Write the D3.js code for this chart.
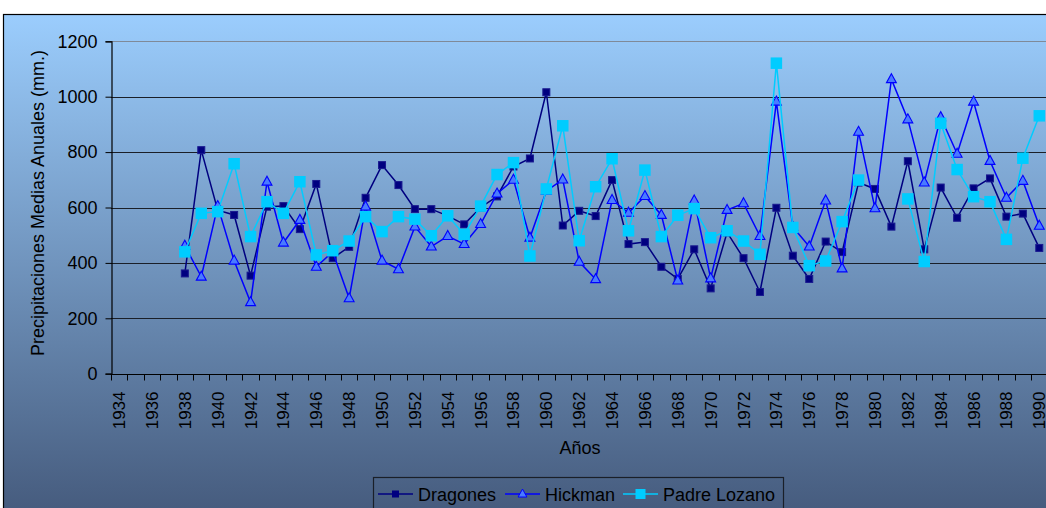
<!DOCTYPE html>
<html>
<head>
<meta charset="utf-8">
<script src="https://cdn.jsdelivr.net/npm/d3@7"></script>
<style>
  html, body { margin: 0; padding: 0; background: #fff; }
  svg { display: block; }
  text { font-family: "Liberation Sans", Arial, sans-serif; fill: #000; }
</style>
</head>
<body>
<svg id="chart" width="1046" height="508"></svg>
<script>
// Annual mean precipitation (mm) per station, 1934–1990 (null = no record)
const years = d3.range(1934, 1991);
const yearTicks = years.filter(y => (y - 1934) % 2 === 0);
const yTicks = [0, 200, 400, 600, 800, 1000, 1200];

const dragones = [null, null, null, null,
  362, 807, 590, 573, 354, 603, 605, 522, 685, 417, 458, 635, 753, 681, 594, 594,
  570, 539, 600, 640, 748, 777, 1016, 535, 588, 569, 699, 468, 475, 386, 342, 449,
  308, 510, 417, 295, 599, 426, 342, 477, 439, 690, 667, 531, 767, 449, 672, 563,
  669, 705, 567, 578, 454];

const hickman = [null, null, null, null,
  462, 350, 605, 408, 258, 693, 473, 555, 386, 440, 272, 603, 408, 377, 531, 459,
  497, 468, 540, 650, 700, 491, 660, 701, 404, 341, 627, 581, 641, 573, 336, 625,
  344, 591, 615, 497, 982, 530, 459, 625, 380, 873, 597, 1063, 918, 690, 926, 794,
  982, 768, 635, 696, 534];

const padreLozano = [null, null, null, null,
  440, 579, 585, 758, 495, 621, 579, 693, 429, 444, 479, 567, 513, 567, 558, 498,
  570, 503, 605, 719, 762, 425, 667, 895, 480, 675, 776, 516, 735, 495, 572, 596,
  491, 516, 479, 431, 1121, 528, 390, 407, 549, 699, null, null, 631, 405, 904, 737,
  639, 621, 485, 778, 931];

const seriesNames = ["Dragones", "Hickman", "Padre Lozano"];

const svg = d3.select("#chart");
const W = 1046, H = 508;

// Chart area background gradient
const defs = svg.append("defs");
const grad = defs.append("linearGradient")
  .attr("id", "bg").attr("x1", 0).attr("y1", 0).attr("x2", 0).attr("y2", 1);
grad.append("stop").attr("offset", "0%").attr("stop-color", "#9bcdfd");
grad.append("stop").attr("offset", "100%").attr("stop-color", "#44597b");

svg.append("rect")
  .attr("x", 3.5).attr("y", 14.5)
  .attr("width", W + 10).attr("height", H)
  .attr("fill", "url(#bg)")
  .attr("stroke", "#000").attr("stroke-width", 1.2);

// Plot area
const plot = { left: 110.9, right: 1047.5, top: 41.3, bottom: 373.7 };

const x = d3.scaleBand().domain(years).range([plot.left, plot.right]).padding(0);
const y = d3.scaleLinear().domain([0, 1200]).range([plot.bottom, plot.top]);
const cx = yr => x(yr) + x.bandwidth() / 2;

// Horizontal gridlines
svg.append("g")
  .selectAll("line")
  .data(yTicks.filter(v => v > 0))
  .join("line")
  .attr("x1", plot.left).attr("x2", W)
  .attr("y1", d => Math.round(y(d)) + 0.5).attr("y2", d => Math.round(y(d)) + 0.5)
  .attr("stroke", d => d === 1200 ? "#7f8a99" : "#1a1f28")
  .attr("stroke-width", 1.1);

// Y axis
const yAxis = svg.append("g")
  .attr("transform", `translate(${Math.round(plot.left) + 0.5},0)`)
  .call(d3.axisLeft(y).tickValues(yTicks).tickSize(6).tickPadding(8).tickFormat(d3.format("d")));
yAxis.select(".domain").attr("stroke", "#000").attr("stroke-width", 1.2);
yAxis.selectAll(".tick line").attr("stroke", "#000");
yAxis.selectAll(".tick text")
  .attr("font-size", 18).attr("font-family", "Liberation Sans, Arial, sans-serif").attr("fill", "#000");

// X axis: tick at every year boundary, label every other year
const xAxisG = svg.append("g")
  .attr("transform", `translate(0,${Math.round(plot.bottom) + 0.5})`);
xAxisG.append("line")
  .attr("x1", plot.left).attr("x2", W)
  .attr("stroke", "#000").attr("stroke-width", 1.2);
xAxisG.selectAll("line.tk")
  .data(years)
  .join("line").attr("class", "tk")
  .attr("x1", d => Math.round(x(d)) + 0.5).attr("x2", d => Math.round(x(d)) + 0.5)
  .attr("y1", 0).attr("y2", 6)
  .attr("stroke", "#000");
xAxisG.selectAll("text")
  .data(yearTicks)
  .join("text")
  .attr("transform", d => `translate(${cx(d) + 6},${17}) rotate(-90)`)
  .attr("text-anchor", "end")
  .attr("font-size", 17)
  .text(d => d);

// Axis titles
svg.append("text")
  .attr("transform", `translate(44,203) rotate(-90)`)
  .attr("text-anchor", "middle")
  .attr("font-size", 18)
  .text("Precipitaciones Medias Anuales (mm.)");

svg.append("text")
  .attr("x", 580).attr("y", 454)
  .attr("text-anchor", "middle")
  .attr("font-size", 18)
  .text("Años");

// Series
const line = d3.line()
  .defined(d => d.v != null)
  .x(d => cx(d.yr))
  .y(d => y(d.v));

const toPts = arr => years.map((yr, i) => ({ yr, v: arr[i] }));

const triangle = s => `M0,${-s * 0.62}L${s * 0.55},${s * 0.38}L${-s * 0.55},${s * 0.38}Z`;

function drawSeries(arr, opt) {
  const pts = toPts(arr);
  const g = svg.append("g");
  g.append("path")
    .datum(pts)
    .attr("d", line)
    .attr("fill", "none")
    .attr("stroke", opt.line)
    .attr("stroke-width", opt.lw);
  const valid = pts.filter(d => d.v != null);
  if (opt.marker === "square") {
    g.selectAll("rect")
      .data(valid)
      .join("rect")
      .attr("x", d => cx(d.yr) - opt.size / 2)
      .attr("y", d => y(d.v) - opt.size / 2)
      .attr("width", opt.size).attr("height", opt.size)
      .attr("fill", opt.fill)
      .attr("stroke", opt.stroke || "none")
      .attr("stroke-width", 1);
  } else {
    g.selectAll("path.m")
      .data(valid)
      .join("path").attr("class", "m")
      .attr("transform", d => `translate(${cx(d.yr)},${y(d.v)})`)
      .attr("d", triangle(opt.size))
      .attr("fill", opt.fill)
      .attr("stroke", opt.stroke)
      .attr("stroke-width", 1.1);
  }
}

drawSeries(dragones, { line: "#000080", lw: 1.5, marker: "square", size: 7, fill: "#000080", stroke: "#1a1a90" });
drawSeries(hickman, { line: "#0000ff", lw: 1.5, marker: "triangle", size: 9, fill: "#4a7bff", stroke: "#0000ff" });
drawSeries(padreLozano, { line: "#00ccff", lw: 1.5, marker: "square", size: 11.5, fill: "#00ccff" });

// Legend
const legend = svg.append("g");
legend.append("rect")
  .attr("x", 373.5).attr("y", 477.5)
  .attr("width", 410).attr("height", 40)
  .attr("fill", "none")
  .attr("stroke", "#1a1f28").attr("stroke-width", 1.2);

const legendItems = [
  { name: seriesNames[0], x: 378, line: "#000080", marker: "square", size: 7, fill: "#000080" },
  { name: seriesNames[1], x: 505, line: "#0000ff", marker: "triangle", size: 8, fill: "#4a7bff", stroke: "#0000ff" },
  { name: seriesNames[2], x: 623, line: "#00ccff", marker: "square", size: 10, fill: "#00ccff" }
];
const ly = 494;
legendItems.forEach(it => {
  const g = legend.append("g").attr("transform", `translate(${it.x},${ly})`);
  g.append("line").attr("x1", 0).attr("x2", 35).attr("stroke", it.line).attr("stroke-width", 1.5);
  if (it.marker === "square") {
    g.append("rect").attr("x", 17.5 - it.size / 2).attr("y", -it.size / 2)
      .attr("width", it.size).attr("height", it.size).attr("fill", it.fill);
  } else {
    g.append("path").attr("transform", "translate(17.5,0)").attr("d", triangle(it.size))
      .attr("fill", it.fill).attr("stroke", it.stroke).attr("stroke-width", 1);
  }
  g.append("text").attr("x", 40).attr("y", 6.5).attr("font-size", 18).text(it.name);
});
</script>
</body>
</html>
